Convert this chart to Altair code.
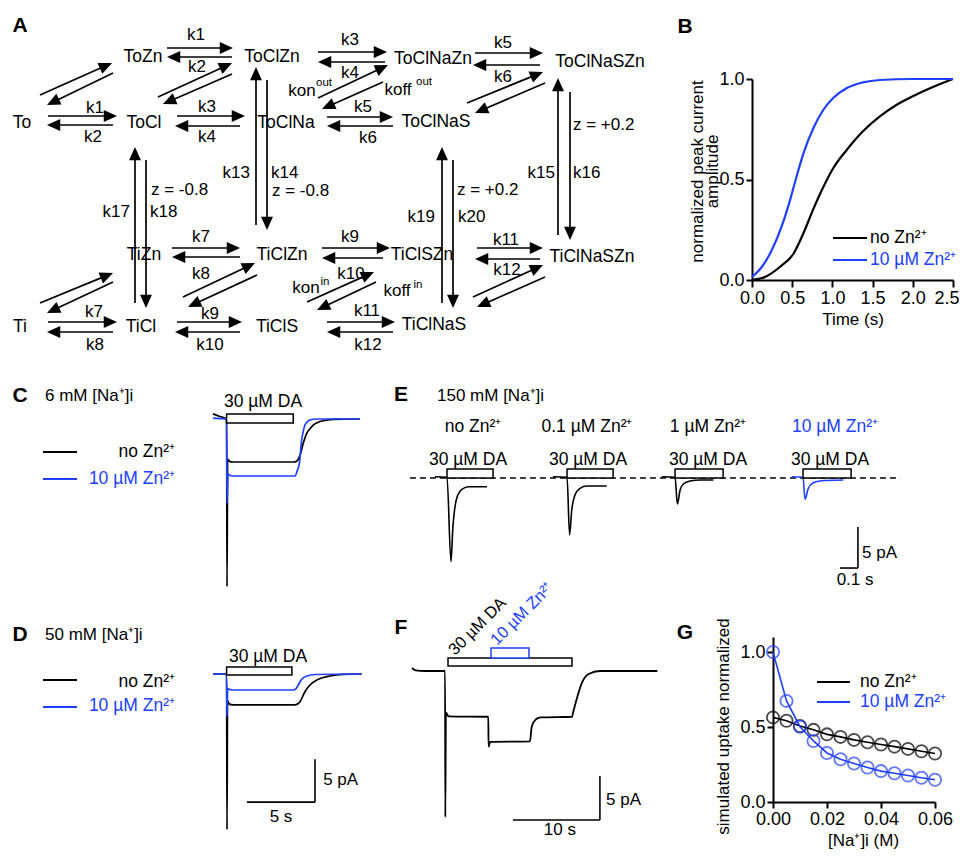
import math
import altair as alt
import pandas as pd

FONT = "Liberation Sans"
BLUE = "#2040ff"
M = 8            # page margin
W, H = 951, 841  # chart canvas

# ======================= DATA =======================
# Panel B: normalized peak current amplitude vs time
B_BLACK_T = [0, 0.15, 0.35, 0.52, 0.64, 0.76, 0.89, 1.01, 1.18, 1.38, 1.59, 1.8, 2.0, 2.25, 2.5]
B_BLACK_V = [0, 0.013, 0.066, 0.133, 0.233, 0.35, 0.465, 0.556, 0.648, 0.74, 0.814, 0.872, 0.914, 0.96, 1.0]
B_BLUE_T = [0, 0.124, 0.248, 0.372, 0.475, 0.537, 0.64, 0.764, 0.888, 1.01, 1.18, 1.38, 1.59, 2.0, 2.5]
B_BLUE_V = [0.015, 0.066, 0.15, 0.27, 0.40, 0.49, 0.63, 0.756, 0.847, 0.905, 0.955, 0.983, 0.995, 1.0, 1.0]
B_XTICKS = [0, 0.5, 1.0, 1.5, 2.0, 2.5]
B_YTICKS = [0, 0.5, 1.0]

# Panel C: 6 mM [Na+]i currents (t in s, I in pA)
C_BLACK_T = [0, 0.5, 1.0, 1.03, 1.08, 1.25, 1.5, 5.9, 6.15, 6.4, 6.64, 6.89, 7.15, 7.37, 7.7, 8.1, 8.85, 10.8]
C_BLACK_I = [0.6, 0.3, 0.0, -19.5, -4.7, -4.95, -5.0, -5.0, -4.9, -4.2, -2.8, -1.67, -1.1, -0.7, -0.4, -0.2, -0.05, 0.0]
C_BLUE_T = [0, 0.5, 1.0, 1.03, 1.1, 1.3, 1.6, 6.03, 6.2, 6.35, 6.52, 6.64, 6.76, 6.95, 7.13, 7.62, 10.8]
C_BLUE_I = [0.1, 0.05, 0.0, -9.8, -6.4, -6.6, -6.63, -6.63, -6.0, -5.15, -2.44, -1.4, -0.7, -0.3, -0.1, 0.0, 0.0]
C_DA = [1.0, 5.9]

# Panel D: 50 mM [Na+]i currents
D_BLACK_T = [0, 1.0, 1.03, 1.07, 1.2, 1.5, 6.03, 6.4, 6.76, 7.13, 7.74, 8.6, 9.58, 10.93]
D_BLACK_I = [0, 0, -18.1, -3.1, -3.5, -3.6, -3.6, -3.22, -2.06, -1.28, -0.62, -0.23, -0.04, 0]
D_BLUE_T = [0, 1.0, 1.03, 1.08, 1.3, 1.6, 5.9, 6.1, 6.27, 6.52, 6.89, 7.5, 10.93]
D_BLUE_I = [0, 0, -4.96, -1.7, -1.83, -1.86, -1.86, -1.7, -1.28, -0.62, -0.23, -0.06, 0]
D_DA = [1.0, 5.8]
D_SCALEBAR = [5.0, 5.0]   # 5 s, 5 pA

# Panel E: 150 mM [Na+]i, four Zn2+ concentrations (t relative to DA onset)
E_LABELS = ["no Zn²⁺", "0.1 µM Zn²⁺", "1 µM Zn²⁺", "10 µM Zn²⁺"]
E1_T = [-0.067, 0.0, 0.022, 0.033, 0.043, 0.06, 0.083, 0.12, 0.222]
E1_I = [0.15, 0.1, -10.2, -5.9, -3.7, -2.07, -1.38, -1.06, -1.06]
E2_T = [-0.078, 0.0, 0.014, 0.026, 0.044, 0.072, 0.11, 0.22]
E2_I = [0.15, 0.1, -6.95, -3.9, -2.07, -1.26, -0.98, -0.98]
E3_T = [-0.074, 0.0, 0.013, 0.028, 0.046, 0.083, 0.139, 0.213]
E3_I = [0.15, 0.1, -3.17, -1.46, -0.73, -0.37, -0.24, -0.24]
E4_T = [-0.063, 0.0, 0.011, 0.029, 0.057, 0.103, 0.223]
E4_I = [0.15, 0.1, -2.6, -1.26, -0.57, -0.33, -0.24]
E_DA_DUR = [0.256, 0.256, 0.267, 0.267]
E_SCALEBAR = [0.1, 5.0]   # 0.1 s, 5 pA

# Panel F: DA then Zn2+ co-application
F_T = [0, 0.4, 1.5, 3.8, 3.83, 3.9, 4.2, 8.77, 8.8, 9.0, 13.56, 13.76, 14.25, 14.8, 18.4, 18.5, 18.9, 19.5, 20.3, 21.6, 28.2]
F_I = [0.34, 0.08, 0.0, 0.0, -16.6, -4.7, -5.15, -5.2, -8.6, -8.05, -8.0, -6.33, -5.49, -5.27, -5.2, -4.8, -3.3, -1.4, -0.34, 0.0, 0.0]
F_DA = [4.14, 18.39]
F_ZN = [9.08, 13.45]
F_SCALEBAR = [10.0, 5.0]  # 10 s, 5 pA

# Panel G: simulated uptake vs [Na+]i
G_NA = [0.0, 0.005, 0.01, 0.015, 0.02, 0.025, 0.03, 0.035, 0.04, 0.045, 0.05, 0.055, 0.06]
G_BLACK = [0.564, 0.542, 0.507, 0.481, 0.451, 0.434, 0.414, 0.398, 0.383, 0.369, 0.354, 0.338, 0.323]
G_BLUE = [1.0, 0.674, 0.502, 0.407, 0.327, 0.285, 0.257, 0.230, 0.206, 0.192, 0.177, 0.162, 0.148]
G_XTICKS = [0, 0.02, 0.04, 0.06]
G_YTICKS = [0, 0.5, 1.0]

# Panel A: kinetic scheme (states and rate labels)
STATES = ["To", "ToZn", "ToCl", "ToClZn", "ToClNa", "ToClNaZn", "ToClNaS", "ToClNaSZn",
          "Ti", "TiZn", "TiCl", "TiClZn", "TiClS", "TiClSZn", "TiClNaS", "TiClNaSZn"]

# ======================= LAYOUT =======================
def S(lo, hi, p_lo, p_hi):
    return alt.Scale(domain=[lo, hi], range=[p_lo - M, p_hi - M], nice=False, zero=False)

def XMAP(origin, ppu, lo, hi):
    return S(lo, hi, origin + ppu * lo, origin + ppu * hi)

def YMAP(origin, ppu, lo, hi):
    return S(lo, hi, origin - ppu * lo, origin - ppu * hi)

CX = S(0, 967, 0, 967)
CY = S(0, 857, 0, 857)
C_X, C_Y = XMAP(213, 13.6, 0, 11), YMAP(419, 8.6, -21, 2)
D_X, D_Y = XMAP(213, 13.6, 0, 11), YMAP(674, 8.6, -21, 2)
E_X, E_Y = XMAP(447, 180, -0.3, 2.6), YMAP(478, 8.2, -14, 2)
F_X, F_Y = XMAP(412, 8.7, 0, 30), YMAP(671, 8.8, -20, 4)
B_X, B_Y = S(0, 2.5, 752, 953), S(0, 1.0, 280, 79)
G_X, G_Y = S(0, 0.06, 773, 935), S(0, 1.1, 802, 637)

E_OFFSETS = [0.0, 0.667, 1.267, 1.978]

STATE_POS = [(22, 123), (143, 57), (144, 123), (272, 57), (286, 123), (433, 59), (436, 122), (600, 62),
             (20, 327), (144, 255), (141, 327), (282, 255), (277, 327), (422, 255), (434, 325), (592, 257)]

SCHEME_ARROWS = [
    (48, 116, 117, 116), (113, 125, 47, 125),
    (167, 48, 233, 48), (232, 57, 167, 57),
    (177, 116, 245, 116), (240, 126, 175, 126),
    (318, 52, 387, 52), (385, 62, 318, 62),
    (327, 117, 393, 117), (393, 126, 327, 126),
    (475, 53, 543, 53), (540, 65, 473, 65),
    (172, 248, 240, 248), (240, 257, 172, 257),
    (322, 248, 390, 248), (383, 258, 322, 258),
    (477, 248, 543, 248), (540, 259, 475, 259),
    (48, 322, 117, 322), (113, 332, 47, 332),
    (177, 322, 242, 322), (240, 332, 175, 332),
    (327, 322, 395, 322), (393, 332, 327, 332),
    (135, 303, 135, 147), (146, 160, 146, 308),
    (256, 225, 256, 67), (267, 80, 267, 230),
    (442, 303, 442, 147), (453, 160, 453, 308),
    (558, 235, 558, 78), (570, 92, 570, 240),
    (40, 95, 112, 63), (113, 73, 47, 105),
    (158, 97, 232, 63), (232, 74, 163, 104),
    (318, 98, 388, 65), (383, 82, 322, 109),
    (467, 103, 543, 72), (545, 83, 475, 113),
    (40, 303, 113, 273), (113, 282, 47, 313),
    (183, 297, 255, 263), (257, 275, 188, 307),
    (307, 302, 374, 272), (376, 282, 317, 310),
    (473, 297, 543, 265), (545, 277, 477, 307),
]

RATE_TEXT = [
    ("k1", 95, 108, "center"), ("k2", 93, 137, "center"),
    ("k1", 196, 35, "center"), ("k2", 197, 67, "center"),
    ("k3", 207, 107, "center"), ("k4", 207, 137, "center"),
    ("k3", 350, 40, "center"), ("k4", 350, 73, "center"),
    ("k5", 363, 107, "center"), ("k6", 368, 138, "center"),
    ("k5", 503, 43, "center"), ("k6", 503, 77, "center"),
    ("k7", 201, 237, "center"), ("k8", 201, 274, "center"),
    ("k9", 350, 237, "center"), ("k10", 351, 274, "center"),
    ("k11", 506, 240, "center"), ("k12", 507, 270, "center"),
    ("k7", 94, 312, "center"), ("k8", 95, 345, "center"),
    ("k9", 210, 314, "center"), ("k10", 210, 345, "center"),
    ("k11", 367, 311, "center"), ("k12", 368, 345, "center"),
    ("k17", 130, 212, "right"), ("k18", 150, 212, "left"), ("z = -0.8", 151, 190, "left"),
    ("k13", 250, 173, "right"), ("k14", 271, 173, "left"), ("z = -0.8", 272, 191, "left"),
    ("k19", 435, 217, "right"), ("k20", 458, 217, "left"), ("z = +0.2", 457, 190, "left"),
    ("k15", 555, 173, "right"), ("k16", 573, 173, "left"), ("z = +0.2", 573, 125, "left"),
    ("kon", 302, 91, "center"), ("koff", 398, 90, "center"),
    ("kon", 306, 288, "center"), ("koff", 397, 291, "center"),
]
SUP_TEXT = [("out", 324, 83), ("out", 424, 82), ("in", 325, 282), ("in", 418, 285)]

HEAD = "M0,0L-0.45,1L0.45,1Z"

# ======================= BUILD =======================
layers = []
TXT = []


def T(text, x, y, size=17.5, color="black", align="center", baseline="middle", weight="normal", angle=0):
    TXT.append(dict(text=text, x=x, y=y, size=size, color=color, align=align,
                    baseline=baseline, weight=weight, angle=angle))


def seg_layer(rows, xs, ys, color="black", width=1.6, dash=None):
    df = pd.DataFrame(rows, columns=["x", "y", "x2", "y2"])
    mk = dict(color=color, strokeWidth=width)
    if dash:
        mk["strokeDash"] = dash
    return alt.Chart(df).mark_rule(**mk).encode(
        x=alt.X("x:Q", scale=xs, axis=None), y=alt.Y("y:Q", scale=ys, axis=None),
        x2=alt.X2("x2"), y2=alt.Y2("y2"))


def trace_layer(ts, vs, xs, ys, color, width=1.6, interp="monotone"):
    df = pd.DataFrame({"t": ts, "I": vs, "i": range(len(ts))})
    return alt.Chart(df).mark_line(color=color, strokeWidth=width, interpolate=interp).encode(
        x=alt.X("t:Q", scale=xs, axis=None), y=alt.Y("I:Q", scale=ys, axis=None),
        order=alt.Order("i:Q"))


def bar_layer(rows, xs, ys, stroke="black"):
    df = pd.DataFrame(rows, columns=["t0", "t1", "I0", "I1"])
    return alt.Chart(df).mark_rect(fill="white", stroke=stroke, strokeWidth=1.5).encode(
        x=alt.X("t0:Q", scale=xs, axis=None), x2=alt.X2("t1"),
        y=alt.Y("I0:Q", scale=ys, axis=None), y2=alt.Y2("I1"))


def data_text(rows, xs, ys, align="center", size=17, color="black"):
    df = pd.DataFrame(rows, columns=["text", "x", "y"])
    return alt.Chart(df).mark_text(align=align, baseline="middle", font=FONT, fontSize=size, color=color).encode(
        x=alt.X("x:Q", scale=xs, axis=None), y=alt.Y("y:Q", scale=ys, axis=None), text="text:N")


# ---- Panel A: scheme ----
arr = []
for (x1, y1, x2, y2) in SCHEME_ARROWS:
    dx, dy = x2 - x1, y2 - y1
    L = math.hypot(dx, dy)
    arr.append(dict(x=x1, y=y1, x2=x2 - dx / L * 7, y2=y2 - dy / L * 7, xt=x2, yt=y2,
                    ang=math.degrees(math.atan2(dx, -dy)) % 360))
arr = pd.DataFrame(arr)
layers.append(alt.Chart(arr).mark_rule(color="black", strokeWidth=1.7).encode(
    x=alt.X("x:Q", scale=CX, axis=None), y=alt.Y("y:Q", scale=CY, axis=None),
    x2=alt.X2("x2"), y2=alt.Y2("y2")))
layers.append(alt.Chart(arr).mark_point(shape=HEAD, filled=True, color="black", size=700,
                                        opacity=1, strokeWidth=0).encode(
    x=alt.X("xt:Q", scale=CX, axis=None), y=alt.Y("yt:Q", scale=CY, axis=None),
    angle=alt.Angle("ang:Q", scale=None)))

for name, (x, y) in zip(STATES, STATE_POS):
    T(name, x, y, size=17.5)
for (txt, x, y, al) in RATE_TEXT:
    T(txt, x, y, size=17, align=al)
for (txt, x, y) in SUP_TEXT:
    T(txt, x, y, size=11.5)

# panel letters
for (lab, x, y) in [("A", 20, 26), ("B", 685, 27), ("C", 20, 396), ("D", 20, 635),
                    ("E", 401, 395), ("F", 401, 628), ("G", 685, 633)]:
    T(lab, x, y, size=21, weight="bold")

# ---- Panel B ----
AX = dict(domainColor="black", domainWidth=2, tickColor="black", tickWidth=2,
          labelFont=FONT, labelFontSize=18, labelColor="black", titleFont=FONT,
          titleFontSize=17, titleFontWeight="normal", titleColor="black", grid=False,
          labelFlush=False, labelOverlap=False)
bdf_k = pd.DataFrame({"t": B_BLACK_T, "v": B_BLACK_V})
bdf_b = pd.DataFrame({"t": B_BLUE_T, "v": B_BLUE_V})
last_b = B_XTICKS[-1]
layers.append(alt.Chart(bdf_k).mark_line(color="black", strokeWidth=2.2, interpolate="monotone").encode(
    x=alt.X("t:Q", scale=B_X, axis=alt.Axis(
        orient="bottom", offset=(280 - M) - H, values=B_XTICKS, format=".1f", tickSize=7,
        labelPadding=2, title="Time (s)", titleX=852.5 - M, titleY=31, titleBaseline="top",
        titleAlign="center",
        labelAlign={"condition": {"test": f"datum.value >= {last_b}", "value": "right"}, "value": "center"},
        labelOffset={"condition": {"test": f"datum.value >= {last_b}", "value": 6}, "value": 0},
        **AX)),
    y=alt.Y("v:Q", scale=B_Y, axis=alt.Axis(orient="left", offset=-(752 - M), values=B_YTICKS,
                                             format=".1f", tickSize=6, labelPadding=2,
                                             title=["normalized peak current", "amplitude"],
                                             titleX=-55, titleY=171 - M, titleAngle=270,
                                             titleAlign="center", titleBaseline="middle",
                                             titleLineHeight=15, **AX))))
layers.append(alt.Chart(bdf_b).mark_line(color=BLUE, strokeWidth=2.2, interpolate="monotone").encode(
    x=alt.X("t:Q", scale=B_X, axis=None), y=alt.Y("v:Q", scale=B_Y, axis=None)))
layers.append(seg_layer([(833, 238, 867, 238)], CX, CY, "black", 1.8))
layers.append(seg_layer([(833, 260, 867, 260)], CX, CY, BLUE, 1.8))
T("no Zn²⁺", 870, 238, align="left")
T("10 µM Zn²⁺", 870, 260, align="left", color=BLUE)

# ---- Panel C ----
layers.append(trace_layer(C_BLACK_T, C_BLACK_I, C_X, C_Y, "black", 1.7))
layers.append(trace_layer(C_BLUE_T, C_BLUE_I, C_X, C_Y, BLUE, 1.7))
layers.append(bar_layer([(C_DA[0], C_DA[1], 0.58, -0.47)], C_X, C_Y))
layers.append(seg_layer([(43, 452, 77, 452)], CX, CY, "black", 1.8))
layers.append(seg_layer([(43, 479, 77, 479)], CX, CY, BLUE, 1.8))
T("6 mM [Na⁺]i", 45, 396, size=17, align="left")
T("30 µM DA", 263, 402)
T("no Zn²⁺", 175, 452, align="right")
T("10 µM Zn²⁺", 175, 479, align="right", color=BLUE)

# ---- Panel D ----
layers.append(trace_layer(D_BLACK_T, D_BLACK_I, D_X, D_Y, "black", 1.7))
layers.append(trace_layer(D_BLUE_T, D_BLUE_I, D_X, D_Y, BLUE, 1.7))
layers.append(bar_layer([(D_DA[0], D_DA[1], 0.81, -0.12)], D_X, D_Y))
sbx, sby = 2.5, -14.9
layers.append(seg_layer([(sbx, sby, sbx + D_SCALEBAR[0], sby),
                         (sbx + D_SCALEBAR[0], sby, sbx + D_SCALEBAR[0], sby + D_SCALEBAR[1])],
                        D_X, D_Y, "black", 1.6))
layers.append(data_text([("5 s", sbx + D_SCALEBAR[0] / 2, sby - 1.7)], D_X, D_Y))
layers.append(data_text([("5 pA", sbx + D_SCALEBAR[0] + 0.6, sby + 2.6)], D_X, D_Y, align="left"))
layers.append(seg_layer([(43, 680, 77, 680)], CX, CY, "black", 1.8))
layers.append(seg_layer([(43, 707, 77, 707)], CX, CY, BLUE, 1.8))
T("50 mM [Na⁺]i", 45, 635, size=17, align="left")
T("30 µM DA", 268, 657)
T("no Zn²⁺", 175, 682, align="right")
T("10 µM Zn²⁺", 175, 706, align="right", color=BLUE)

# ---- Panel E ----
layers.append(seg_layer([(-0.206, 0, 2.517, 0)], E_X, E_Y, "black", 1.5, dash=[6, 4]))
E_SWEEPS = [(E1_T, E1_I), (E2_T, E2_I), (E3_T, E3_I), (E4_T, E4_I)]
for k, (ts, vs) in enumerate(E_SWEEPS):
    col = BLUE if k == 3 else "black"
    layers.append(trace_layer([t + E_OFFSETS[k] for t in ts], vs, E_X, E_Y, col, 1.6))
layers.append(bar_layer([(E_OFFSETS[k], E_OFFSETS[k] + E_DA_DUR[k], 1.1, 0.0) for k in range(4)], E_X, E_Y))
ex, ey = 2.183, -10.98
layers.append(seg_layer([(ex, ey, ex + E_SCALEBAR[0], ey),
                         (ex + E_SCALEBAR[0], ey, ex + E_SCALEBAR[0], ey + E_SCALEBAR[1])],
                        E_X, E_Y, "black", 1.6))
layers.append(data_text([("0.1 s", ex + 0.084, ey - 1.46)], E_X, E_Y))
layers.append(data_text([("5 pA", ex + E_SCALEBAR[0] + 0.023, ey + 1.83)], E_X, E_Y, align="left"))
T("150 mM [Na⁺]i", 437, 396, size=17, align="left")
for k, (lab, xc) in enumerate(zip(E_LABELS, [473, 587, 708, 835])):
    T(lab, xc, 427, color=BLUE if k == 3 else "black")
for xc in [468, 588, 708, 830]:
    T("30 µM DA", xc, 460)

# ---- Panel F ----
layers.append(trace_layer(F_T, F_I, F_X, F_Y, "black", 1.8))
layers.append(bar_layer([(F_DA[0], F_DA[1], 1.48, 0.57)], F_X, F_Y))
layers.append(bar_layer([(F_ZN[0], F_ZN[1], 2.61, 1.48)], F_X, F_Y, stroke=BLUE))
fx, fy = 11.6, -16.93
layers.append(seg_layer([(fx, fy, fx + F_SCALEBAR[0], fy),
                         (fx + F_SCALEBAR[0], fy, fx + F_SCALEBAR[0], fy + F_SCALEBAR[1])],
                        F_X, F_Y, "black", 1.6))
layers.append(data_text([("10 s", fx + 5.4, fy - 1.14)], F_X, F_Y))
layers.append(data_text([("5 pA", fx + F_SCALEBAR[0] + 0.7, fy + 2.27)], F_X, F_Y, align="left"))
T("30 µM DA", 455, 656, size=16.5, align="left", baseline="alphabetic", angle=315)
T("10 µM Zn²⁺", 497, 646, size=16.5, align="left", baseline="alphabetic", angle=315, color=BLUE)

# ---- Panel G ----
gk = pd.DataFrame({"na": G_NA, "v": G_BLACK})
gb = pd.DataFrame({"na": G_NA, "v": G_BLUE})
layers.append(alt.Chart(gk).mark_line(color="black", strokeWidth=1.6).encode(
    x=alt.X("na:Q", scale=G_X, axis=alt.Axis(orient="bottom", offset=(802 - M) - H, values=G_XTICKS,
                                              format=".2f", tickSize=6, labelPadding=2,
                                              title="[Na⁺]i (M)", titleX=863 - M, titleY=30,
                                              titleBaseline="top", titleAlign="center", **AX)),
    y=alt.Y("v:Q", scale=G_Y, axis=alt.Axis(orient="left", offset=-(773 - M), values=G_YTICKS,
                                             format=".1f", tickSize=6, labelPadding=2,
                                             title="simulated uptake normalized", titleX=-50,
                                             titleY=726 - M, titleAngle=270, titleAlign="center",
                                             titleBaseline="middle", **AX))))
layers.append(alt.Chart(gk).mark_point(shape="circle", filled=False, color="black", size=150, strokeWidth=1.8).encode(
    x=alt.X("na:Q", scale=G_X, axis=None), y=alt.Y("v:Q", scale=G_Y, axis=None)))
layers.append(alt.Chart(gb).mark_line(color=BLUE, strokeWidth=1.6).encode(
    x=alt.X("na:Q", scale=G_X, axis=None), y=alt.Y("v:Q", scale=G_Y, axis=None)))
layers.append(alt.Chart(gb).mark_point(shape="circle", filled=False, color=BLUE, size=150, strokeWidth=1.8).encode(
    x=alt.X("na:Q", scale=G_X, axis=None), y=alt.Y("v:Q", scale=G_Y, axis=None)))
layers.append(seg_layer([(817, 682, 850, 682)], CX, CY, "black", 1.8))
layers.append(seg_layer([(817, 702, 850, 702)], CX, CY, BLUE, 1.8))
T("no Zn²⁺", 860, 682, align="left")
T("10 µM Zn²⁺", 860, 702, align="left", color=BLUE)

# ---- all canvas texts ----
tx = pd.DataFrame(TXT)
for (al, bl, wt), g in tx.groupby(["align", "baseline", "weight"]):
    g = g.reset_index(drop=True)
    layers.append(alt.Chart(g).mark_text(align=al, baseline=bl, fontWeight=wt, font=FONT).encode(
        x=alt.X("x:Q", scale=CX, axis=None), y=alt.Y("y:Q", scale=CY, axis=None),
        text="text:N", size=alt.Size("size:Q", scale=None),
        color=alt.Color("color:N", scale=None), angle=alt.Angle("angle:Q", scale=None)))

chart = (alt.layer(*layers)
         .resolve_scale(x="independent", y="independent")
         .properties(width=W, height=H, padding=0, autosize=alt.AutoSizeParams(type="none"),
                     background="white")
         .configure_view(stroke=None))

chart.save("out.html", embed_options={"renderer": "svg", "actions": False})
